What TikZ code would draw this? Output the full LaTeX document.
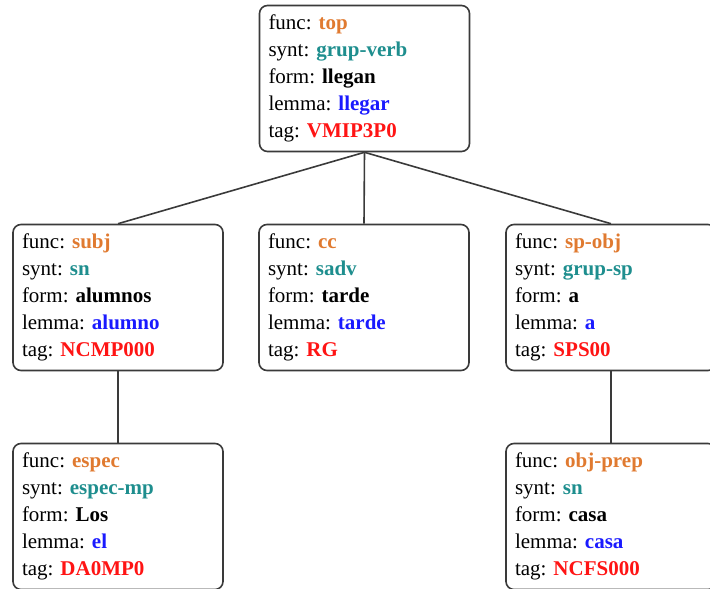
\documentclass[tikz,border=0pt]{standalone}
\usepackage{fontspec}
\setmainfont{Liberation Serif}
\frenchspacing
\definecolor{funcc}{HTML}{E07A30}
\definecolor{syntc}{HTML}{1E8E8E}
\definecolor{lemmac}{HTML}{1A1AFF}
\definecolor{tagc}{HTML}{FF1414}
\definecolor{framec}{HTML}{3A3A3A}
\newcommand{\feat}[5]{%
  func: \textbf{\textcolor{funcc}{#1}}\\
  synt: \textbf{\textcolor{syntc}{#2}}\\
  form: \textbf{#3}\\
  lemma: \textbf{\textcolor{lemmac}{#4}}\\
  tag: \textbf{\textcolor{tagc}{#5}}}
\begin{document}
\begin{tikzpicture}[x=1pt,y=-1pt,
  featbox/.style={draw=framec, line width=1.6pt, rounded corners=8pt,
    minimum width=210pt, minimum height=146pt, inner xsep=9pt, inner ysep=0pt,
    text width=192pt, align=left,
    font=\fontsize{21}{27}\selectfont},
  link/.style={draw=framec, line width=1.6pt}]
\useasboundingbox (0,0) rectangle (710,589);
\node[featbox] (top) at (364.5,78.5) {\feat{top}{grup-verb}{llegan}{llegar}{VMIP3P0}};
\node[featbox] (subj) at (118,297.5) {\feat{subj}{sn}{alumnos}{alumno}{NCMP000}};
\node[featbox] (cc) at (364,297.5) {\feat{cc}{sadv}{tarde}{tarde}{RG}};
\node[featbox] (spobj) at (611,297.5) {\feat{sp-obj}{grup-sp}{a}{a}{SPS00}};
\node[featbox] (espec) at (118,516.5) {\feat{espec}{espec-mp}{Los}{el}{DA0MP0}};
\node[featbox] (objprep) at (611,516.5) {\feat{obj-prep}{sn}{casa}{casa}{NCFS000}};
\draw[link] (top.south) -- (subj.north);
\draw[link] (top.south) -- (cc.north);
\draw[link] (top.south) -- (spobj.north);
\draw[link] (subj.south) -- (espec.north);
\draw[link] (spobj.south) -- (objprep.north);
\end{tikzpicture}
\end{document}
